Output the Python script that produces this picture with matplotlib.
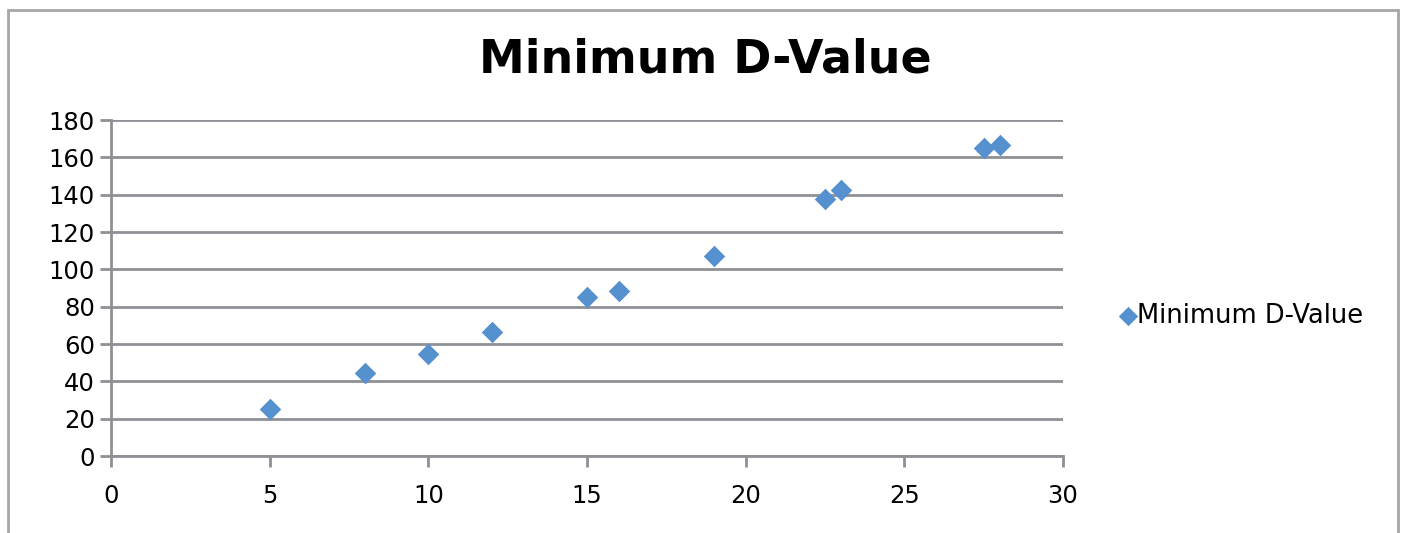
import matplotlib.pyplot as plt
from matplotlib.patches import Rectangle

# data
x_vals = [5, 8, 10, 12, 15, 16, 19, 22.5, 23, 27.5, 28]
d_vals = [25, 44.5, 54.5, 66.5, 85, 88.5, 107, 137.5, 142.5, 165, 166.5]
x_ticks = [0, 5, 10, 15, 20, 25, 30]
y_ticks = [0, 20, 40, 60, 80, 100, 120, 140, 160, 180]
series_name = 'Minimum D-Value'

grid_col = '#8e9095'
blue = '#5590cf'

fig = plt.figure(figsize=(14.05, 5.33), dpi=100)
# outer chart border
fig.patches.append(Rectangle((8/1405, -0.05), 1390/1405, 1.05 - 10/533,
                             transform=fig.transFigure, fill=False,
                             edgecolor='#a6a6a6', linewidth=2))

ax = fig.add_axes([111/1405, 1 - 456/533, 952/1405, 336/533])
ax.scatter(x_vals, d_vals, marker='D', s=120, color=blue, label=series_name,
           zorder=3, linewidths=0)

ax.set_xlim(0, 30)
ax.set_ylim(0, 180)
ax.set_xticks(x_ticks)
ax.set_yticks(y_ticks)
ax.yaxis.grid(True, color=grid_col, linewidth=2)
ax.set_axisbelow(True)
for s in ['top', 'right']:
    ax.spines[s].set_visible(False)
for s in ['left', 'bottom']:
    ax.spines[s].set_color(grid_col)
    ax.spines[s].set_linewidth(2)
ax.tick_params(axis='both', colors=grid_col, width=2, length=8,
               labelsize=17.5, labelcolor='black')
ax.tick_params(axis='x', pad=12)

fig.text(705/1405, 1 - 60/533, 'Minimum D-Value', ha='center', va='center',
         fontsize=33, fontweight='bold')

fig.legend(loc='center left', bbox_to_anchor=(1098/1405, 1 - 316/533),
           frameon=False, fontsize=18.5, handletextpad=-0.4, handlelength=1.5,
           borderaxespad=0, markerscale=0.9)

fig.savefig('out.png', dpi=100)
